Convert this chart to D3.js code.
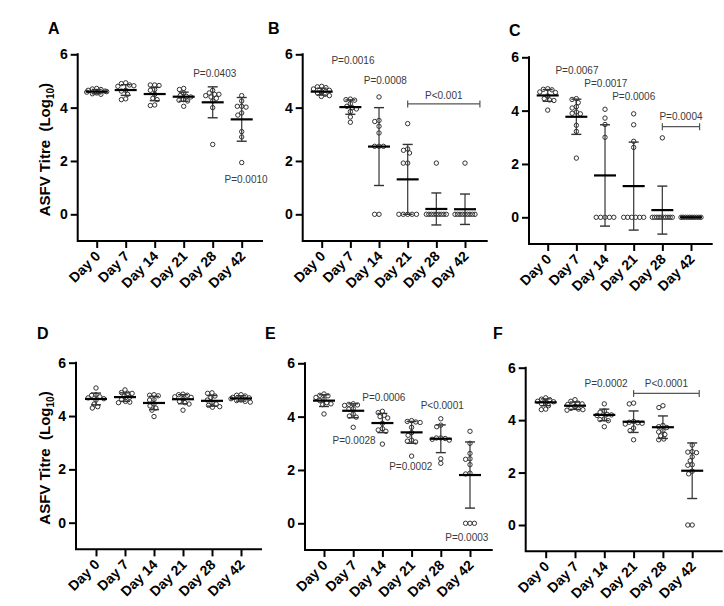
<!DOCTYPE html>
<html><head><meta charset="utf-8">
<script src="https://cdn.jsdelivr.net/npm/d3@7"></script>
<style>body{margin:0;background:#fff}svg{display:block}</style>
</head><body><svg id="c" width="724" height="606"></svg>
<script>
const days = ["Day 0","Day 7","Day 14","Day 21","Day 28","Day 42"];
const yTicks = [0,2,4,6];

const valuesA = [
  [4.72,4.7,4.68,4.65,4.62,4.6,4.58,4.55,4.52,4.5],
  [4.93,4.9,4.85,4.82,4.8,4.65,4.62,4.5,4.33,4.3],
  [4.85,4.85,4.83,4.68,4.65,4.5,4.35,4.3,4.1,4.08],
  [4.72,4.68,4.55,4.45,4.42,4.4,4.3,4.28,4.25,4.05],
  [4.65,4.55,4.5,4.5,4.45,4.4,4.35,4.25,4.0,2.62],
  [4.45,4.25,4.05,4.05,4.02,3.8,3.72,3.1,2.9,1.94]];
const meansA = [4.6,4.66,4.51,4.41,4.2,3.56];
const sdA = [0.08,0.2,0.25,0.17,0.58,0.82];

const valuesB = [
  [4.8,4.78,4.75,4.7,4.65,4.6,4.55,4.5,4.45,4.42],
  [4.32,4.3,4.28,4.15,4.05,4.0,3.95,3.85,3.65,3.45],
  [4.4,3.52,3.48,3.3,3.05,2.55,2.55,2.55,0,0],
  [3.4,2.45,2.4,2.3,1.92,1.92,0,0,0,0,0],
  [1.92,0,0,0,0,0,0,0,0,0],
  [1.92,0,0,0,0,0,0,0,0,0]];
const meansB = [4.6,4.02,2.54,1.31,0.2,0.19];
const sdB = [0.13,0.27,1.46,1.31,0.6,0.57];

const valuesC = [
  [4.82,4.8,4.78,4.7,4.68,4.55,4.45,4.4,4.38,4.02],
  [4.45,4.42,4.3,4.15,4.1,3.95,3.9,3.88,3.45,3.22,2.22],
  [4.05,3.72,3.48,3.0,0,0,0,0,0],
  [3.88,3.47,2.85,2.62,0,0,0,0,0,0],
  [2.98,0,0,0,0,0,0,0,0,0,0],
  [0,0,0,0,0,0,0,0,0,0]];
const meansC = [4.57,3.77,1.57,1.17,0.27,0];
const sdC = [0.22,0.66,1.9,1.65,0.9,0];

const valuesD = [
  [5.05,4.8,4.78,4.72,4.68,4.65,4.6,4.45,4.35,4.3],
  [4.98,4.88,4.85,4.85,4.75,4.7,4.62,4.55,4.52,4.5],
  [4.8,4.78,4.76,4.62,4.6,4.45,4.38,4.3,4.22,3.98],
  [4.82,4.8,4.78,4.72,4.7,4.65,4.55,4.5,4.45,4.22],
  [4.87,4.85,4.75,4.7,4.6,4.5,4.45,4.4,4.35,4.33],
  [4.8,4.78,4.75,4.7,4.68,4.65,4.6,4.58,4.55,4.52]];
const meansD = [4.64,4.71,4.49,4.63,4.57,4.66];
const sdD = [0.22,0.16,0.25,0.17,0.2,0.1];

const valuesE = [
  [4.85,4.8,4.78,4.72,4.65,4.6,4.52,4.48,4.45,4.1],
  [4.48,4.46,4.44,4.42,4.3,4.28,4.1,4.02,3.98,3.6],
  [4.2,4.15,4.05,4.0,3.95,3.75,3.55,3.5,3.45,2.97],
  [3.85,3.82,3.8,3.78,3.6,3.4,3.3,3.12,3.08,3.05,2.52],
  [3.92,3.68,3.62,3.2,3.2,3.18,3.15,3.12,2.42,2.25],
  [3.45,3.0,2.62,2.42,2.4,2.2,1.88,1.85,0,0,0]];
const meansE = [4.6,4.22,3.76,3.41,3.17,1.81];
const sdE = [0.22,0.26,0.36,0.41,0.52,1.24];

const valuesF = [
  [4.85,4.8,4.78,4.72,4.7,4.68,4.62,4.55,4.42,4.4],
  [4.78,4.72,4.65,4.62,4.6,4.52,4.45,4.42,4.4,4.38],
  [4.62,4.35,4.3,4.22,4.2,4.18,4.05,4.02,3.98,3.75],
  [4.65,4.62,3.95,3.92,3.9,3.88,3.85,3.7,3.6,3.25],
  [4.55,4.48,3.8,3.75,3.72,3.6,3.55,3.45,3.4,3.28,3.25],
  [3.05,2.8,2.78,2.76,2.6,2.45,2.3,2.28,2.05,1.95,0,0]];
const meansF = [4.68,4.55,4.2,3.94,3.73,2.07];
const sdF = [0.13,0.14,0.22,0.41,0.43,1.06];

// P-value labels: category index position (fractional) and value position
const pLabels = [
  {p:"A", text:"P=0.0403", xi:4.07, v:5.15},
  {p:"A", text:"P=0.0010", xi:5.15, v:1.17},
  {p:"B", text:"P=0.0016", xi:1.09, v:5.64},
  {p:"B", text:"P=0.0008", xi:2.22, v:4.89},
  {p:"C", text:"P=0.0067", xi:1.02, v:5.39},
  {p:"C", text:"P=0.0017", xi:2.03, v:4.89},
  {p:"C", text:"P=0.0006", xi:3.0, v:4.4},
  {p:"E", text:"P=0.0006", xi:2.05, v:4.57},
  {p:"E", text:"P=0.0028", xi:1.03, v:2.99},
  {p:"E", text:"P<0.0001", xi:4.05, v:4.29},
  {p:"E", text:"P=0.0002", xi:2.97, v:2.0},
  {p:"E", text:"P=0.0003", xi:4.89, v:-0.68},
  {p:"F", text:"P=0.0002", xi:2.06, v:5.26}
];
const brackets = [
  {p:"B", from:3, to:5.52, v:4.14, text:"P<0.001", tv:4.34},
  {p:"C", from:4, to:5.3, v:3.4, text:"P=0.0004", tv:3.65},
  {p:"F", from:3, to:5.24, v:5.02, text:"P<0.0001", tv:5.26}
];

const panels = [
  {id:"A", values:valuesA, means:meansA, sds:sdA, ax:77.7, y6:54.3, y0:214.3, x0:96.7, step:29, xEnd:262, lx:48, ly:34, title:true},
  {id:"B", values:valuesB, means:meansB, sds:sdB, ax:302.7, y6:54.3, y0:214.3, x0:321.7, step:28.66, xEnd:486.7, lx:268, ly:34, title:false},
  {id:"C", values:valuesC, means:meansC, sds:sdC, ax:529, y6:57.3, y0:217.3, x0:547.7, step:28.66, xEnd:711.7, lx:509, ly:35.7, title:false},
  {id:"D", values:valuesD, means:meansD, sds:sdD, ax:76, y6:362.7, y0:522.7, x0:96, step:29, xEnd:261, lx:37, ly:339, title:true},
  {id:"E", values:valuesE, means:meansE, sds:sdE, ax:305, y6:363.3, y0:523.3, x0:324, step:29.2, xEnd:491.7, lx:265, ly:339, title:false},
  {id:"F", values:valuesF, means:meansF, sds:sdF, ax:525.7, y6:367.7, y0:525, x0:545.7, step:29.3, xEnd:721.7, lx:493, ly:339, title:false}
];

const FONT = "'Liberation Sans', Arial, Helvetica, sans-serif";
const svg = d3.select("#c");

// beeswarm-like horizontal spread; rows of many identical values are packed evenly
function swarm(vals, y, D, maxOff) {
  const counts = d3.rollup(vals, v => v.length, v => v);
  const placed = [];
  counts.forEach((n, v) => {
    if (n >= 5) {
      const w = Math.min((n-1)*D, 2*maxOff), sp = w/(n-1);
      for (let k = 0; k < n; k++) placed.push({v, y:y(v), x:-w/2 + k*sp});
    }
  });
  const rest = vals.filter(v => counts.get(v) < 5).map(v => ({v, y:y(v)})).sort((a,b)=>a.y-b.y);
  for (const p of rest) {
    const cands = [0];
    for (const q of placed) {
      const dy = Math.abs(q.y - p.y);
      if (dy < D) { const dx = Math.sqrt(D*D - dy*dy); cands.push(q.x+dx, q.x-dx); }
    }
    cands.sort((a,b)=>Math.abs(a)-Math.abs(b) || a-b);
    let chosen = cands[cands.length-1];
    for (const c of cands) {
      if (placed.every(q => (q.x-c)**2 + (q.y-p.y)**2 >= D*D - 0.01)) { chosen = c; break; }
    }
    p.x = Math.max(-maxOff, Math.min(maxOff, chosen));
    placed.push(p);
  }
  return placed;
}

panels.forEach(P => {
  const g = svg.append("g");
  const unit = (P.y0 - P.y6) / 6;
  const y = d3.scaleLinear().domain([-1,6]).range([P.y0 + unit, P.y6]);
  const x = d3.scalePoint().domain(days).range([P.x0, P.x0 + 5*P.step]);
  const xf = i => P.x0 + i*P.step;
  const yb = y(-1);

  const ya = g.append("g").attr("transform",`translate(${P.ax},0)`)
    .call(d3.axisLeft(y).tickValues(yTicks).tickSize(7).tickPadding(3).tickFormat(d3.format("d")));
  ya.select(".domain").remove();
  ya.selectAll(".tick line").attr("stroke","#000").attr("stroke-width",2);
  ya.selectAll(".tick text").attr("font-family",FONT).attr("font-size",14).attr("font-weight","bold").attr("fill","#000");

  const xa = g.append("g").attr("transform",`translate(0,${yb})`)
    .call(d3.axisBottom(x).tickSize(7).tickSizeOuter(0));
  xa.select(".domain").remove();
  xa.selectAll(".tick line").attr("stroke","#000").attr("stroke-width",2);
  xa.selectAll(".tick text")
    .attr("font-family",FONT).attr("font-size",14).attr("font-weight","bold").attr("fill","#000")
    .attr("text-anchor","end").attr("y",0).attr("dy",0)
    .attr("transform","translate(4,16) rotate(-45)");

  g.append("path").attr("d",`M${P.ax},${P.y6}V${yb}H${P.xEnd}`)
    .attr("fill","none").attr("stroke","#000").attr("stroke-width",2).attr("stroke-linecap","square");

  g.append("text").attr("x",P.lx).attr("y",P.ly).text(P.id)
    .attr("font-family",FONT).attr("font-size",16).attr("font-weight","bold");

  if (P.title) {
    const cy = (P.y6 + yb) / 2 + 2;
    const t = g.append("text").attr("transform",`translate(50,${cy}) rotate(-90)`)
      .attr("text-anchor","middle").attr("font-family",FONT).attr("font-size",15).attr("font-weight","bold");
    t.append("tspan").text("ASFV Titre\u00A0\u00A0(Log");
    t.append("tspan").attr("font-size",10).attr("dy",4).text("10");
    t.append("tspan").attr("dy",-4).text(")");
  }

  days.forEach((d,i) => {
    const cx = x(d);
    const m = P.means[i], s = P.sds[i];
    if (s > 0) {
      g.append("line").attr("x1",cx).attr("x2",cx).attr("y1",y(m-s)).attr("y2",y(m+s))
        .attr("stroke","#444").attr("stroke-width",1.3);
      [m-s, m+s].forEach(e => g.append("line").attr("x1",cx-5).attr("x2",cx+5).attr("y1",y(e)).attr("y2",y(e))
        .attr("stroke","#333").attr("stroke-width",1.4));
    }
    const pts = swarm(P.values[i], y, 4.4, 10);
    g.selectAll(null).data(pts).enter().append("circle")
      .attr("cx",p=>cx+p.x).attr("cy",p=>p.y).attr("r",2.2)
      .attr("fill","none").attr("stroke","#333").attr("stroke-width",1);
    g.append("line").attr("x1",cx-11).attr("x2",cx+11).attr("y1",y(m)).attr("y2",y(m))
      .attr("stroke","#000").attr("stroke-width",2.2);
  });

  pLabels.filter(a=>a.p===P.id).forEach(a => {
    g.append("text").attr("x",xf(a.xi)).attr("y",y(a.v)).attr("text-anchor","middle")
      .attr("font-family",FONT).attr("font-size",10).attr("fill","#3a3a3a").text(a.text);
  });
  brackets.filter(b=>b.p===P.id).forEach(b => {
    const x1 = xf(b.from), x2 = xf(b.to), yy = y(b.v);
    g.append("path").attr("d",`M${x1},${yy-3.5}V${yy+3.5}M${x1},${yy}H${x2}M${x2},${yy-3.5}V${yy+3.5}`)
      .attr("fill","none").attr("stroke","#555").attr("stroke-width",1.2);
    g.append("text").attr("x",(x1+x2)/2).attr("y",y(b.tv)).attr("text-anchor","middle")
      .attr("font-family",FONT).attr("font-size",10).attr("fill","#3a3a3a").text(b.text);
  });
});
</script></body></html>
